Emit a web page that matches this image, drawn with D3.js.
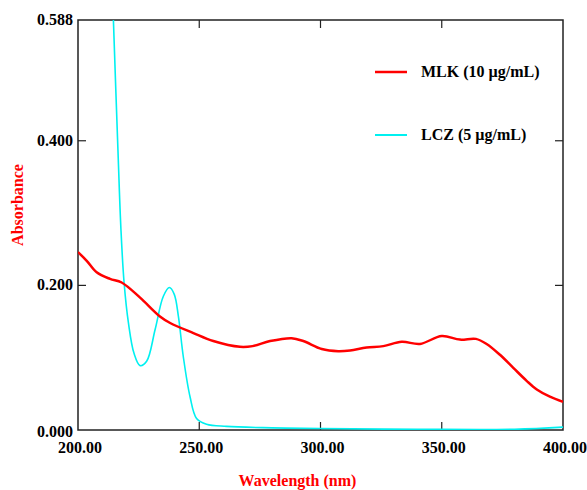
<!DOCTYPE html>
<html>
<head>
<meta charset="utf-8">
<script src="https://cdn.jsdelivr.net/npm/d3@7"></script>
<style>
  body { margin: 0; background: #fff; }
  text { font-family: "Liberation Serif", "Times New Roman", serif; font-weight: bold; }
</style>
</head>
<body>
<div id="chart"></div>
<script>
// data
var mlkWave = [200, 203.6, 207.7, 213.2, 218, 225.6, 233.8, 238, 247.6, 255.8, 266.8, 272, 279.2, 288.1, 292.9, 300.5, 307.3, 312.2, 319, 325.9, 333.5, 341, 350, 357.5, 364.1, 368.5, 374, 379.5, 385, 389.2, 394.6, 400];
var mlkAbs = [0.246, 0.234, 0.218, 0.209, 0.204, 0.183, 0.157, 0.148, 0.134, 0.123, 0.115, 0.116, 0.123, 0.127, 0.123, 0.112, 0.109, 0.110, 0.114, 0.116, 0.122, 0.119, 0.130, 0.125, 0.126, 0.119, 0.104, 0.086, 0.068, 0.056, 0.046, 0.039];

var lczWave = [213.5, 214.6, 216.6, 217.7, 219, 220.8, 223.1, 225.6, 228.3, 231.8, 235.2, 237.7, 239.7, 241.4, 243.4, 246.2, 248.9, 253, 261.3, 280, 300, 340, 380, 400];
var lczAbs = [0.68, 0.567, 0.375, 0.278, 0.204, 0.148, 0.106, 0.089, 0.095, 0.139, 0.185, 0.197, 0.1875, 0.157, 0.102, 0.046, 0.016, 0.008, 0.005, 0.003, 0.002, 0.001, 0.001, 0.004];

var xTicks = [200, 250, 300, 350, 400];
var yTicks = [0, 0.2, 0.4];
var yTopLabel = "0.588";

var seriesNames = ["MLK (10 µg/mL)", "LCZ (5 µg/mL)"];
var seriesColors = ["#ff0000", "#00f0f0"];

var svgWidth = 587;
var svgHeight = 490;
var margin = { top: 20, right: 24, bottom: 60, left: 78 };
var width = svgWidth - margin.left - margin.right;
var height = svgHeight - margin.top - margin.bottom;

var svg = d3.select("#chart")
  .append("svg")
  .attr("width", svgWidth)
  .attr("height", svgHeight);

var chartGroup = svg.append("g")
  .attr("transform", `translate(${margin.left}, ${margin.top})`);

var xScale = d3.scaleLinear().domain([200, 400]).range([0, width]);
// top of the frame sits a bit under 0.588 on the real scale
var yScale = d3.scaleLinear().domain([0, 0.567]).range([height, 0]);

chartGroup.append("clipPath").attr("id", "clip")
  .append("rect").attr("width", width).attr("height", height);

// frame
chartGroup.append("rect")
  .attr("width", width).attr("height", height)
  .attr("fill", "none").attr("stroke", "#222").attr("stroke-width", 1.5);

// inner ticks on all four sides
var inner = xTicks.slice(1, -1);
chartGroup.selectAll(".xtb").data(inner).enter().append("line")
  .attr("x1", d => xScale(d)).attr("x2", d => xScale(d))
  .attr("y1", height).attr("y2", height - 8)
  .attr("stroke", "#222").attr("stroke-width", 1.2);
chartGroup.selectAll(".xtt").data(inner).enter().append("line")
  .attr("x1", d => xScale(d)).attr("x2", d => xScale(d))
  .attr("y1", 0).attr("y2", 8)
  .attr("stroke", "#222").attr("stroke-width", 1.2);
var yInner = yTicks.slice(1);
chartGroup.selectAll(".ytl").data(yInner).enter().append("line")
  .attr("x1", 0).attr("x2", 8)
  .attr("y1", d => yScale(d)).attr("y2", d => yScale(d))
  .attr("stroke", "#222").attr("stroke-width", 1.2);
chartGroup.selectAll(".ytr").data(yInner).enter().append("line")
  .attr("x1", width).attr("x2", width - 8)
  .attr("y1", d => yScale(d)).attr("y2", d => yScale(d))
  .attr("stroke", "#222").attr("stroke-width", 1.2);

// tick labels
chartGroup.selectAll(".xl").data(xTicks).enter().append("text")
  .attr("x", d => xScale(d) + 2)
  .attr("y", height + 23)
  .attr("text-anchor", "middle")
  .attr("font-size", 16)
  .text(d => d.toFixed(2));

chartGroup.selectAll(".yl").data(yTicks).enter().append("text")
  .attr("x", -5)
  .attr("y", d => yScale(d) + (d === 0 ? 7 : 5))
  .attr("text-anchor", "end")
  .attr("font-size", 16)
  .text(d => d.toFixed(3));

chartGroup.append("text")
  .attr("x", -5)
  .attr("y", 5)
  .attr("text-anchor", "end")
  .attr("font-size", 16)
  .text(yTopLabel);

// lines
var lineGen = d3.line()
  .x(d => xScale(d[0]))
  .y(d => yScale(d[1]))
  .curve(d3.curveCatmullRom.alpha(0.5));

var plotArea = chartGroup.append("g").attr("clip-path", "url(#clip)");

plotArea.append("path")
  .datum(lczWave.map((w, i) => [w, lczAbs[i]]))
  .attr("d", lineGen)
  .attr("fill", "none")
  .attr("stroke", seriesColors[1])
  .attr("stroke-width", 1.6);

plotArea.append("path")
  .datum(mlkWave.map((w, i) => [w, mlkAbs[i]]))
  .attr("d", lineGen)
  .attr("fill", "none")
  .attr("stroke", seriesColors[0])
  .attr("stroke-width", 2.5);

// legend
var legend = svg.append("g").attr("transform", "translate(375, 72)");
seriesNames.forEach(function(name, i) {
  var g = legend.append("g").attr("transform", `translate(0, ${i * 63})`);
  g.append("line")
    .attr("x1", 0).attr("x2", 32)
    .attr("stroke", seriesColors[i])
    .attr("stroke-width", i === 0 ? 2.5 : 2);
  g.append("text")
    .attr("x", 46).attr("y", 5)
    .attr("font-size", 16)
    .text(name);
});

// axis titles
svg.append("text")
  .attr("x", margin.left + width / 2 - 23)
  .attr("y", 486)
  .attr("text-anchor", "middle")
  .attr("font-size", 16)
  .attr("fill", "#ff0000")
  .text("Wavelength (nm)");

svg.append("text")
  .attr("transform", "translate(23, 205) rotate(-90)")
  .attr("text-anchor", "middle")
  .attr("font-size", 16)
  .attr("fill", "#ff0000")
  .text("Absorbance");
</script>
</body>
</html>
